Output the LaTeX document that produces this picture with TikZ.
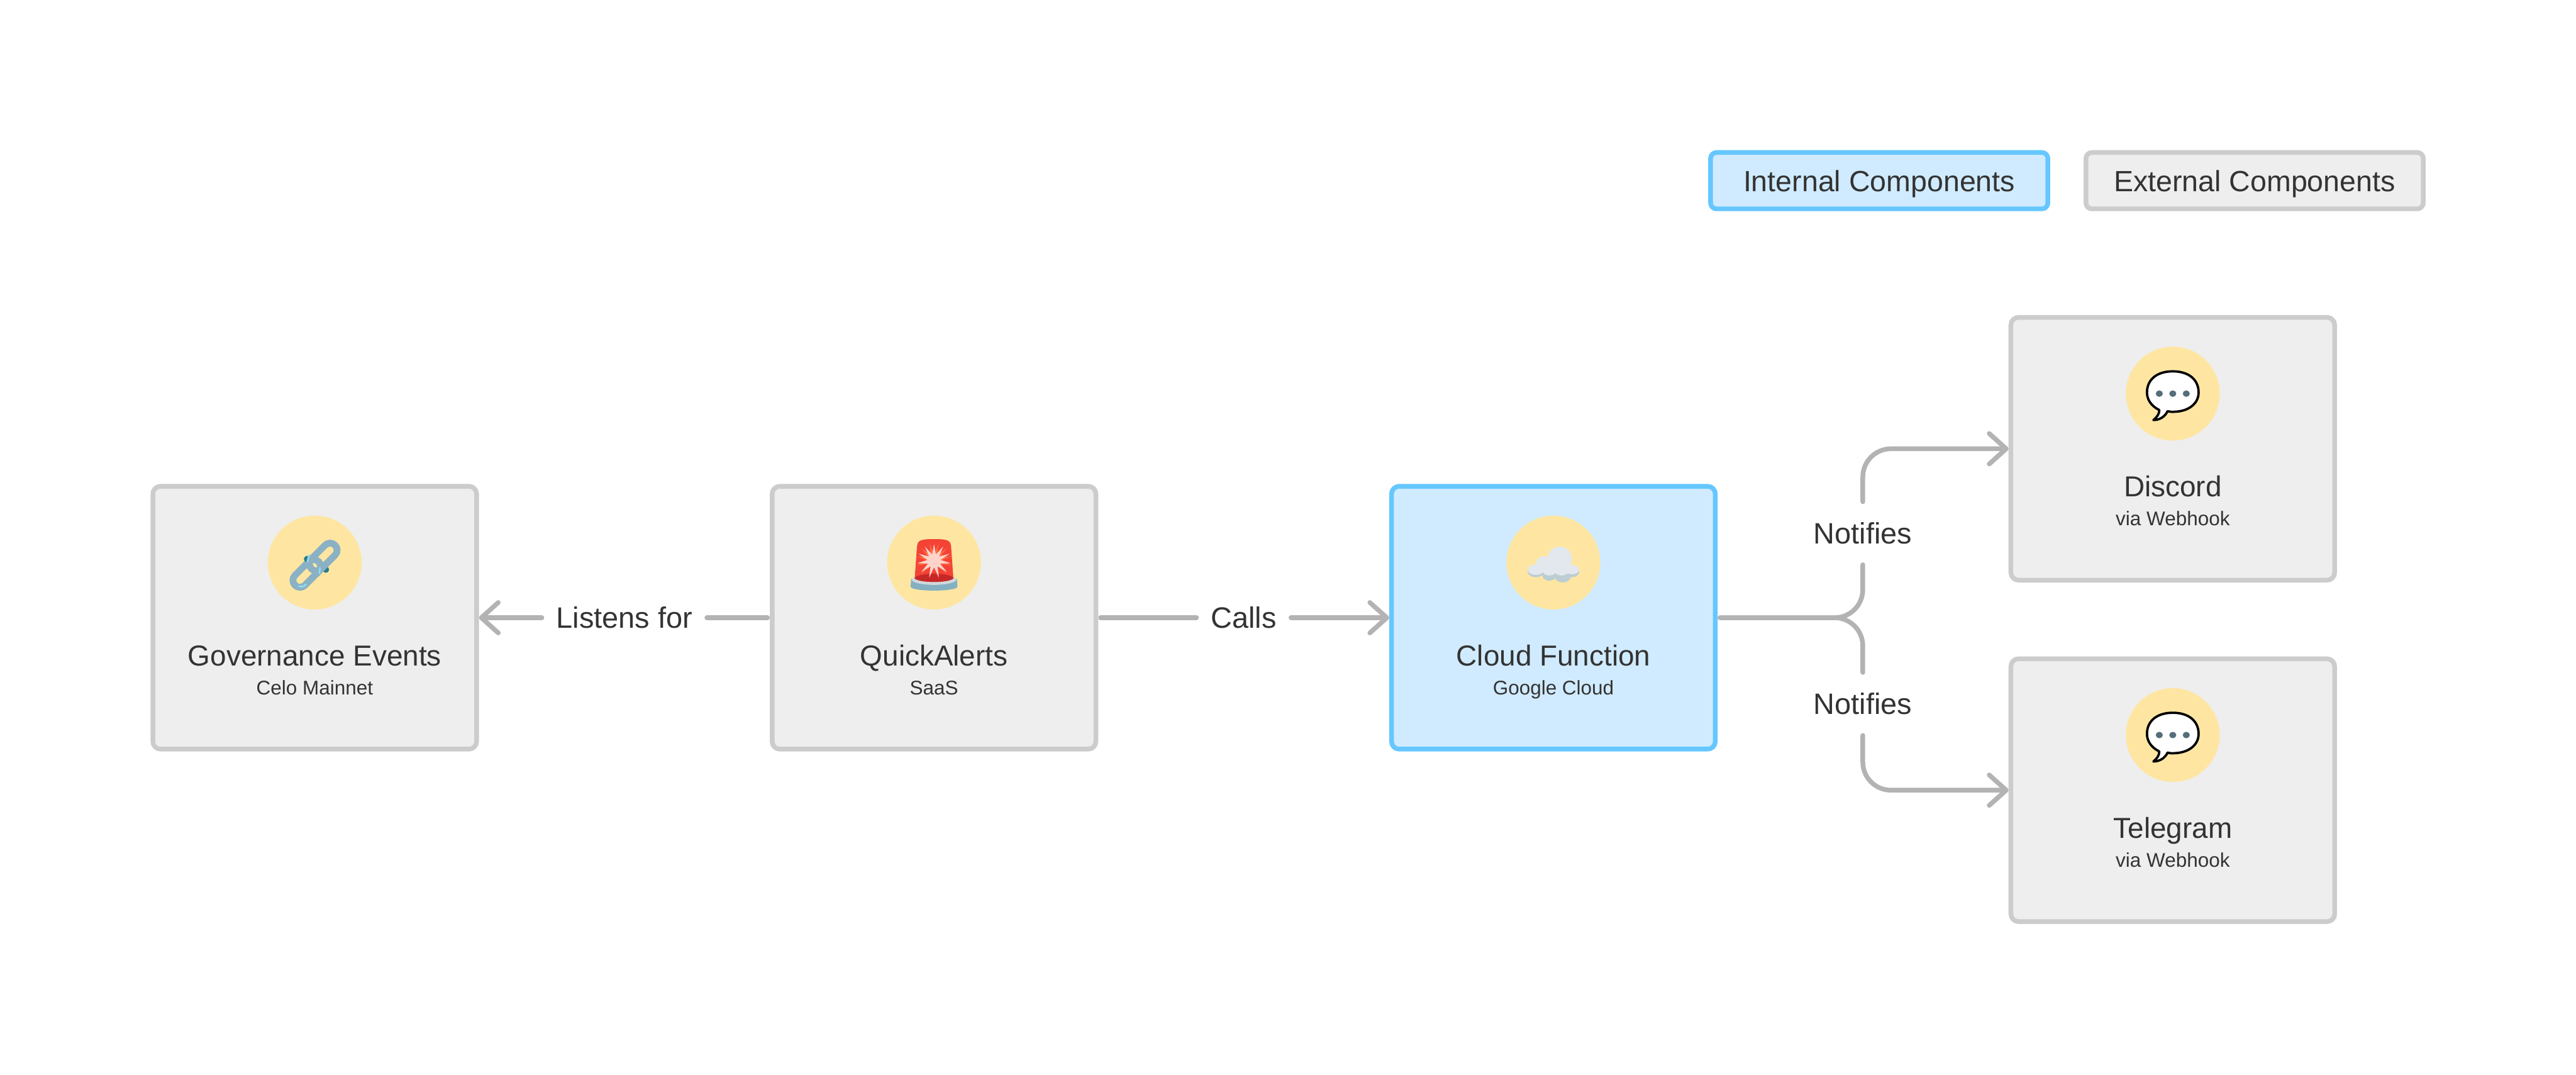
\documentclass[tikz,border=0pt]{standalone}
\usepackage{fontspec}
\setmainfont{Liberation Sans}
\usepackage{xcolor}
\usepackage{tikz}
\usetikzlibrary{arrows.meta,calc,positioning,shapes.geometric}
\definecolor{extfill}{HTML}{EEEEEE}
\definecolor{extline}{HTML}{CCCCCC}
\definecolor{intfill}{HTML}{D0EBFF}
\definecolor{intline}{HTML}{66C7FF}
\definecolor{badge}{HTML}{FEE6A2}
\definecolor{flow}{HTML}{B3B3B3}
\definecolor{ink}{HTML}{333333}
\definecolor{chain}{HTML}{8AB1C4}
\definecolor{chaindark}{HTML}{2A7A8C}
\definecolor{chainlight}{HTML}{8FDDEE}
\definecolor{sirenred}{HTML}{F44336}
\definecolor{sirendark}{HTML}{C62828}
\definecolor{sirenglow}{HTML}{FF7043}
\definecolor{sirenstar}{HTML}{FFD3C9}
\definecolor{sirenrim}{HTML}{CFD8DC}
\definecolor{sirenbase}{HTML}{84B0C1}
\definecolor{cloudbody}{HTML}{E2E8ED}
\definecolor{cloudshade}{HTML}{BCCDD3}
\definecolor{chatdot}{HTML}{546E7A}
\tikzset{
  compbox/.style={
    rectangle,
    rounded corners=1.3mm,
    line width=0.08cm,
    minimum width=5.52cm,
    minimum height=4.48cm
  },
  legendbox/.style={
    rectangle,
    rounded corners=1mm,
    line width=0.08cm,
    minimum width=5.75cm,
    minimum height=0.96cm,
    font=\fontsize{14.2pt}{16pt}\selectfont,
    text=ink,
    text height=0.36cm,
    text depth=0pt
  },
  external/.style={fill=extfill, draw=extline},
  internal/.style={fill=intfill, draw=intline},
  iconbg/.style={circle, fill=badge, minimum size=1.6cm, inner sep=0pt},
  comptitle/.style={font=\fontsize{14pt}{16pt}\selectfont, text=ink, anchor=base, inner sep=0pt},
  compsub/.style={font=\fontsize{9.6pt}{11pt}\selectfont, text=ink, anchor=base, inner sep=0pt},
  edgelabel/.style={font=\fontsize{14.3pt}{16pt}\selectfont, text=ink, inner xsep=0.24cm, inner ysep=0pt, minimum height=1.06cm},
  flowline/.style={line width=0.08cm, draw=flow, line cap=round, line join=round},
  flowarrow/.style={flowline, -{Straight Barb[length=2.9mm,width=5.2mm,round]}},
  fromedge/.style={shorten <=0.04cm}
}
\newcommand{\compdetail}[3]{%
  \node[iconbg] (#1icon) at ($(#1.center)+(0,0.94)$) {};
  \node[comptitle] (#1title) at ($(#1.center)+(0,-0.82)$) {#2};
  \node[compsub] (#1sub) at ($(#1.center)+(0,-1.31)$) {#3};
}
\newcommand{\chainicon}[1]{%
  \begin{scope}[shift={(#1.center)},x=.1mm,y=-.1mm]
    \def\lowerlink{[draw=chain, line width=1.15mm, rounded corners=1.2mm, rotate around={45:(-13.5,18.5)}] (-42,6.5) rectangle (15,30.5)}
    \draw\lowerlink;
    \fill[chaindark] (-13,-6) circle (5.5);
    \fill[chaindark] (19,12) circle (5.5);
    \draw[draw=chain, line width=1.15mm, rounded corners=1.2mm, rotate around={45:(14.5,-9.5)}] (-14,-21.5) rectangle (43,2.5);
    \begin{scope}
      \clip (9,12) circle (12);
      \draw\lowerlink;
    \end{scope}
    \draw[chainlight, line width=.28mm, line cap=round] (-10,-13) -- (-12,-2);
    \draw[chainlight, line width=.28mm, line cap=round] (9,9) -- (8,18);
    \draw[chainlight, line width=.28mm, line cap=round] (-27,40) .. controls (-22,42) and (-18,41) .. (-15,37);
  \end{scope}
}
\newcommand{\sirenicon}[1]{%
  \begin{scope}[shift={(#1.center)},x=.1mm,y=-.1mm]
    \fill[sirenbase] (-39,28) .. controls (-39,26) and (39,26) .. (39,28) -- (40,41) .. controls (40,50) and (-40,50) .. (-40,41) -- cycle;
    \fill[sirenrim] (0,29) ellipse (38 and 9);
    \fill[sirenred] (-33,27) -- (-29,-28) .. controls (-28,-39) and (-20,-40) .. (0,-40) .. controls (20,-40) and (28,-39) .. (29,-28) -- (33,27) .. controls (25,35) and (-25,35) .. (-33,27) -- cycle;
    \begin{scope}
      \clip (-33,27) -- (-32,15) -- (32,15) -- (33,27) .. controls (25,35) and (-25,35) .. (-33,27) -- cycle;
      \fill[sirendark] (0,27) ellipse (33 and 8);
    \end{scope}
    \node[star, star points=12, star point ratio=3.2, fill=sirenglow, inner sep=0pt, minimum size=6.2mm, rotate=15] (sirenglowstar) at (0,-3) {};
    \node[star, star points=11, star point ratio=2.6, fill=sirenstar, inner sep=0pt, minimum size=5.8mm] (sirenflash) at (0,-3) {};
  \end{scope}
}
\newcommand{\cloudicon}[1]{%
  \begin{scope}[shift={(#1.center)},x=.1mm,y=-.1mm]
    \fill[cloudshade] (-30,15) ellipse (14 and 10);
    \fill[cloudshade] (-7,21) ellipse (12 and 10);
    \fill[cloudshade] (16,23) ellipse (14 and 11);
    \fill[cloudshade] (32,16) ellipse (12 and 9);
    \fill[cloudbody] (10.7,-6) circle (21);
    \fill[cloudbody] (-16,3) circle (14);
    \fill[cloudbody] (-30,12) ellipse (14 and 9);
    \fill[cloudbody] (-7,13) ellipse (12 and 9);
    \fill[cloudbody] (14,13) ellipse (13 and 9);
    \fill[cloudbody] (32,12) ellipse (12 and 8);
  \end{scope}
}
\newcommand{\chaticon}[1]{%
  \begin{scope}[shift={(#1.center)},x=.1mm,y=-.1mm]
    \draw[black, fill=white, line width=.4mm, line join=round] (-33,45) .. controls (-27,40) and (-23,35) .. (-23,28) .. controls (-37,21) and (-44,10) .. (-44,-2) .. controls (-44,-24) and (-27,-38) .. (0,-38) .. controls (27,-38) and (44,-24) .. (44,-2) .. controls (44,17) and (27,31) .. (0,31) .. controls (-3,31) and (-6,31) .. (-9,30) .. controls (-13,39) and (-22,45) .. (-33,45) -- cycle;
    \fill[chatdot] (-23,0) ellipse (6 and 5.5);
    \fill[chatdot] (0,0) ellipse (6 and 5.5);
    \fill[chatdot] (23,0) ellipse (6 and 5.5);
  \end{scope}
}

\begin{document}
\begin{tikzpicture}[x=1cm,y=1cm]
\useasboundingbox (0,0) rectangle (43.92,18.32);
\fill[white] (0,0) rectangle (43.92,18.32);

\node[legendbox, internal] (legendint) at (32.04,15.24) {Internal Components};
\node[legendbox, external] (legendext) at (38.44,15.24) {External Components};

\node[compbox, external] (events) at (5.366,7.79) {};
\node[compbox, external] (quick) at (15.925,7.79) {};
\node[compbox, internal] (cloudfn) at (26.485,7.79) {};
\node[compbox, external] (discord) at (37.045,10.67) {};
\node[compbox, external] (telegram) at (37.045,4.85) {};

\compdetail{events}{Governance Events}{Celo Mainnet}
\compdetail{quick}{QuickAlerts}{SaaS}
\compdetail{cloudfn}{Cloud Function}{Google Cloud}
\compdetail{discord}{Discord}{via Webhook}
\compdetail{telegram}{Telegram}{via Webhook}

\chainicon{eventsicon}
\sirenicon{quickicon}
\cloudicon{cloudfnicon}
\chaticon{discordicon}
\chaticon{telegramicon}

\node[edgelabel] (listens) at (10.645,7.79) {Listens for};
\node[edgelabel] (calls) at (21.205,7.79) {Calls};
\node[edgelabel] (notifyup) at (31.76,9.23) {Notifies};
\node[edgelabel] (notifydown) at (31.76,6.32) {Notifies};

\draw[flowline, fromedge] (quick.west) -- (listens.east);
\draw[flowarrow] (listens.west) -- (events.east);
\draw[flowline, fromedge] (quick.east) -- (calls.west);
\draw[flowarrow] (calls.east) -- (cloudfn.west);
\draw[flowline, fromedge, rounded corners=0.48cm] (cloudfn.east) -| (notifyup.south);
\draw[flowline, fromedge, rounded corners=0.48cm] (cloudfn.east) -| (notifydown.north);
\draw[flowarrow, rounded corners=0.48cm] (notifyup.north) |- (discord.west);
\draw[flowarrow, rounded corners=0.48cm] (notifydown.south) |- (telegram.west);

\end{tikzpicture}
\end{document}
